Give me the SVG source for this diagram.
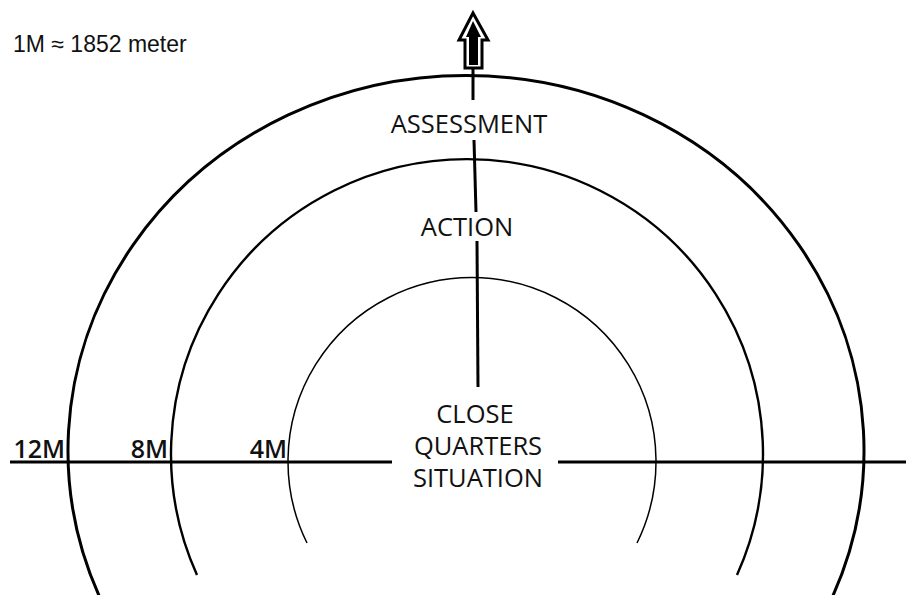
<svg xmlns="http://www.w3.org/2000/svg" width="906" height="595" viewBox="0 0 906 595">
<style>
.lbl{font-family:"Open Sans","DejaVu Sans",sans-serif;font-size:25.5px;fill:#111;text-anchor:middle}
.dist{font-family:"Open Sans","DejaVu Sans",sans-serif;font-size:25px;font-weight:600;fill:#111;text-anchor:end}
.note{font-family:"Liberation Sans",Arial,sans-serif;font-size:23px;fill:#111}
.ring{fill:none;stroke:#000}
</style>
<rect width="906" height="595" fill="#fff"/>
<text class="note" x="13" y="52">1M ≈ 1852 meter</text>
<g id="ring-12M"><path class="ring" stroke-width="3" d="M 101 600 A 398 375 0 1 1 831 600"/></g>
<g id="ring-8M"><path class="ring" stroke-width="2.4" d="M 197 575 A 296 295 0 1 1 737 575"/></g>
<g id="ring-4M"><path class="ring" stroke-width="1.5" d="M 307 543 A 184 184 0 1 1 637 543"/></g>
<g id="connectors" stroke="#000" stroke-width="3" fill="none">
<line x1="10" y1="462" x2="392" y2="462"/>
<line x1="558" y1="462" x2="906" y2="462"/>
<line x1="478" y1="387" x2="477" y2="241"/>
<line x1="476" y1="212" x2="474" y2="140"/>
<line x1="473" y1="100" x2="473" y2="66"/>
</g>
<g id="arrow">
<polygon points="473,13 488,40 482,40 482,68 465,68 465,40 459,40" fill="#fff" stroke="#000" stroke-width="3" stroke-linejoin="miter"/>
<polygon points="473,21 481,37 478,37 478,65 469,65 469,37 466,37" fill="#000"/>
</g>
<g id="labels">
<text class="lbl" x="469" y="133">ASSESSMENT</text>
<text class="lbl" x="467" y="236">ACTION</text>
<g id="cqs"><text class="lbl" x="475" y="423">CLOSE</text>
<text class="lbl" x="478" y="455">QUARTERS</text>
<text class="lbl" x="478" y="487">SITUATION</text></g>
<text class="dist" x="65" y="458">12M</text>
<text class="dist" x="168" y="458">8M</text>
<text class="dist" x="287" y="458">4M</text>
</g>
</svg>
